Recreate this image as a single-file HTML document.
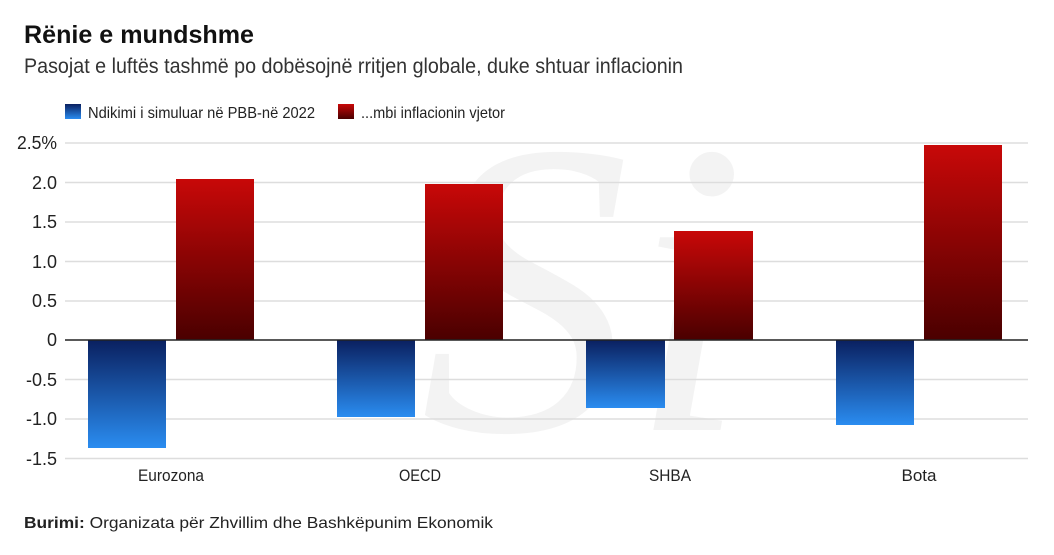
<!DOCTYPE html>
<html><head><meta charset="utf-8"><style>
body{margin:0;background:#fff;width:1054px;height:550px;overflow:hidden;font-family:"Liberation Sans",sans-serif;}
</style></head><body>
<svg width="1054" height="550" xmlns="http://www.w3.org/2000/svg" font-family="Liberation Sans, sans-serif">
<defs>
<linearGradient id="r" x1="0" y1="0" x2="0" y2="1"><stop offset="0" stop-color="#c80808"/><stop offset="1" stop-color="#4a0000"/></linearGradient>
<linearGradient id="b" x1="0" y1="0" x2="0" y2="1"><stop offset="0" stop-color="#0a2060"/><stop offset="1" stop-color="#2a8cf0"/></linearGradient>
</defs>
<text x="24" y="43" font-weight="bold" font-size="25" fill="#111" textLength="230" lengthAdjust="spacingAndGlyphs">Rënie e mundshme</text>
<text x="24" y="73" font-size="21" fill="#333" textLength="659" lengthAdjust="spacingAndGlyphs">Pasojat e luftës tashmë po dobësojnë rritjen globale, duke shtuar inflacionin</text>
<text x="420" y="430" font-family="Liberation Serif, serif" font-style="italic" font-size="420" fill="#f3f3f3">Si</text>
<rect x="65" y="104" width="16" height="15" fill="url(#b)"/>
<text x="88" y="118" font-size="16" fill="#222" textLength="227" lengthAdjust="spacingAndGlyphs">Ndikimi i simuluar në PBB-në 2022</text>
<rect x="338" y="104" width="16" height="15" fill="url(#r)"/>
<text x="361" y="118" font-size="16" fill="#222" textLength="144" lengthAdjust="spacingAndGlyphs">...mbi inflacionin vjetor</text>
<g stroke="#ddd" stroke-width="1.5">
<line x1="65" x2="1028" y1="143" y2="143"/><line x1="65" x2="1028" y1="182.5" y2="182.5"/>
<line x1="65" x2="1028" y1="222" y2="222"/><line x1="65" x2="1028" y1="261.5" y2="261.5"/>
<line x1="65" x2="1028" y1="301" y2="301"/><line x1="65" x2="1028" y1="379.5" y2="379.5"/>
<line x1="65" x2="1028" y1="419" y2="419"/><line x1="65" x2="1028" y1="458.5" y2="458.5"/>
</g>
<g font-size="18" fill="#222" text-anchor="end">
<text x="57" y="149" textLength="40" lengthAdjust="spacingAndGlyphs">2.5%</text><text x="57" y="189">2.0</text><text x="57" y="228">1.5</text>
<text x="57" y="268">1.0</text><text x="57" y="307">0.5</text><text x="57" y="346">0</text>
<text x="57" y="386">-0.5</text><text x="57" y="425">-1.0</text><text x="57" y="465">-1.5</text>
</g>
<rect x="88" y="340" width="78" height="108" fill="url(#b)"/>
<rect x="176" y="179" width="78" height="161" fill="url(#r)"/>
<rect x="337" y="340" width="78" height="77" fill="url(#b)"/>
<rect x="425" y="184" width="78" height="156" fill="url(#r)"/>
<rect x="586" y="340" width="79" height="68" fill="url(#b)"/>
<rect x="674" y="231" width="79" height="109" fill="url(#r)"/>
<rect x="836" y="340" width="78" height="85" fill="url(#b)"/>
<rect x="924" y="145" width="78" height="195" fill="url(#r)"/>
<line x1="65" x2="1028" y1="340" y2="340" stroke="#222" stroke-width="1.5"/>
<g font-size="17" fill="#222" text-anchor="middle">
<text x="171" y="481" textLength="66" lengthAdjust="spacingAndGlyphs">Eurozona</text><text x="420" y="481" textLength="42" lengthAdjust="spacingAndGlyphs">OECD</text><text x="670" y="481" textLength="42" lengthAdjust="spacingAndGlyphs">SHBA</text><text x="919" y="481" textLength="35" lengthAdjust="spacingAndGlyphs">Bota</text>
</g>
<text x="24" y="528" font-size="16" fill="#222" textLength="469" lengthAdjust="spacingAndGlyphs"><tspan font-weight="bold">Burimi:</tspan> Organizata për Zhvillim dhe Bashkëpunim Ekonomik</text>
</svg>
</body></html>
